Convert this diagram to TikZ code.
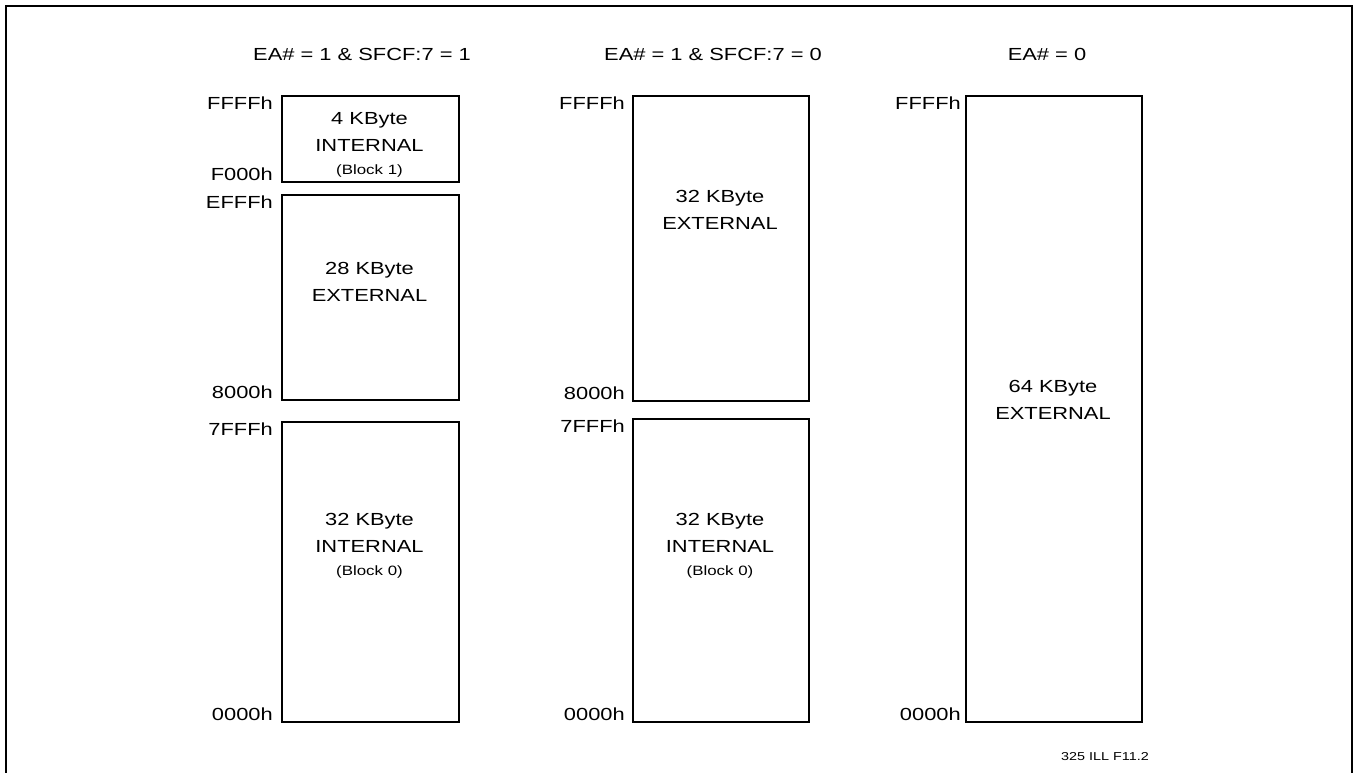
\documentclass[tikz,border=0pt]{standalone}
\usepackage{fontspec}
\setmainfont[FakeStretch=1.25]{Liberation Sans}
\begin{document}
\begin{tikzpicture}[x=1pt,y=-1pt,
  membox/.style={draw, line width=2.2pt, inner sep=0pt, anchor=north west},
  addr/.style={font=\fontsize{17.5}{21}\selectfont, inner sep=0pt},
  txt/.style={font=\fontsize{17.5}{27}\selectfont, align=center, inner sep=0pt, anchor=north},
  hdr/.style={font=\fontsize{17.5}{21}\selectfont, inner sep=0pt, anchor=base},
  smalltxt/.style={font=\fontsize{11.5}{14}\selectfont, inner sep=0pt, anchor=base}
]
\useasboundingbox (0,0) rectangle (1355,772);
% frame
\draw[line width=2pt] (6,790) -- (6,6) -- (1352,6) -- (1352,790);

% headers
\node[hdr] (h1) at (362,60) {EA\# = 1 \& SFCF:7 = 1};
\node[hdr] (h2) at (713,60) {EA\# = 1 \& SFCF:7 = 0};
\node[hdr] (h3) at (1047,60) {EA\# = 0};

% column 1
\node[membox, minimum width=177pt, minimum height=86pt] (c1a) at (281,95) {};
\node[membox, minimum width=177pt, minimum height=205pt] (c1b) at (281,194) {};
\node[membox, minimum width=177pt, minimum height=300pt] (c1c) at (281,421) {};
\node[txt] (t1a) at (369.5,112) {4 KByte\\INTERNAL\\[-4pt]{\fontsize{13.5}{16}\selectfont (Block 1)}};
\node[txt] (t1b) at (369.5,262) {28 KByte\\EXTERNAL};
\node[txt] (t1c) at (369.5,513) {32 KByte\\INTERNAL\\[-4pt]{\fontsize{13.5}{16}\selectfont (Block 0)}};
\node[addr, anchor=north east] (a1) at (273,97) {FFFFh};
\node[addr, anchor=base east] (a2) at (273,180) {F000h};
\node[addr, anchor=north east] (a3) at (273,196) {EFFFh};
\node[addr, anchor=base east] (a4) at (273,398) {8000h};
\node[addr, anchor=north east] (a5) at (273,423) {7FFFh};
\node[addr, anchor=base east] (a6) at (273,720) {0000h};

% column 2
\node[membox, minimum width=176pt, minimum height=305pt] (c2a) at (632,95) {};
\node[membox, minimum width=176pt, minimum height=303pt] (c2b) at (632,418) {};
\node[txt] (t2a) at (720,190) {32 KByte\\EXTERNAL};
\node[txt] (t2b) at (720,513) {32 KByte\\INTERNAL\\[-4pt]{\fontsize{13.5}{16}\selectfont (Block 0)}};
\node[addr, anchor=north east] (b1) at (625,97) {FFFFh};
\node[addr, anchor=base east] (b2) at (625,399) {8000h};
\node[addr, anchor=north east] (b3) at (625,420) {7FFFh};
\node[addr, anchor=base east] (b4) at (625,720) {0000h};

% column 3
\node[membox, minimum width=176pt, minimum height=626pt] (c3) at (965,95) {};
\node[txt] (t3) at (1053,380) {64 KByte\\EXTERNAL};
\node[addr, anchor=north east] (d1) at (961,97) {FFFFh};
\node[addr, anchor=base east] (d2) at (961,720) {0000h};

\node[smalltxt] (fig) at (1105,760) {325 ILL F11.2};
\end{tikzpicture}
\end{document}
